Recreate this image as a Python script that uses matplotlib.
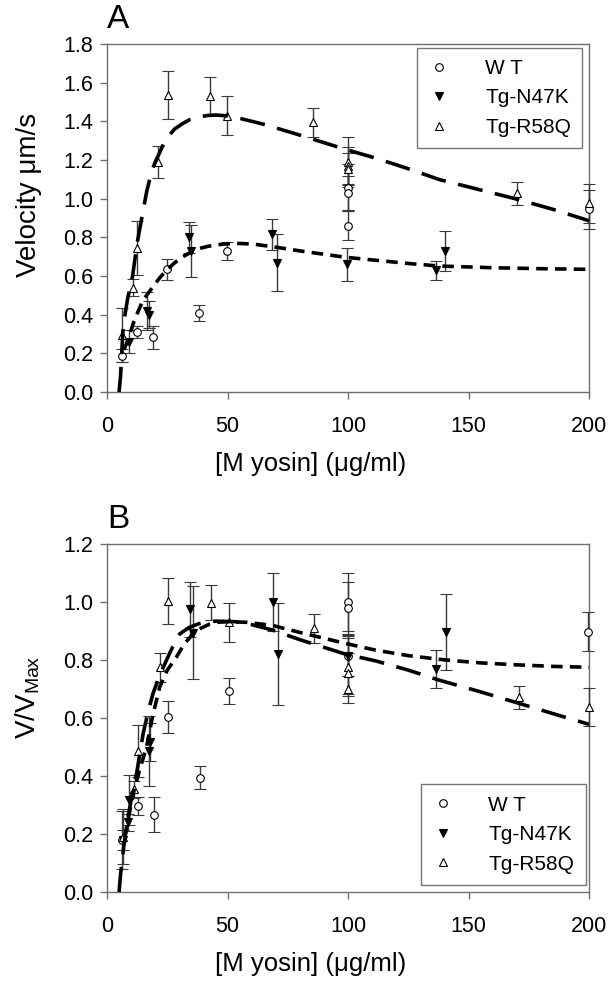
import numpy as np
import matplotlib
matplotlib.use("Agg")
import matplotlib.pyplot as plt
from matplotlib.lines import Line2D

plt.rcParams['font.family'] = ['Liberation Sans', 'DejaVu Sans']
plt.rcParams['mathtext.fontset'] = 'custom'
plt.rcParams['mathtext.rm'] = 'Liberation Sans'

# ---- Panel A: velocity (um/s) ----
a_wt_x = [6.3, 12.5, 18.9, 24.9, 38.0, 49.9, 100, 100, 100, 200]
a_wt_y = [0.188, 0.31, 0.283, 0.635, 0.41, 0.73, 1.057, 1.03, 0.86, 0.945]
a_wt_e = [0.035, 0.03, 0.06, 0.055, 0.04, 0.045, 0.12, 0.09, 0.075, 0.1]

a_n47k_x = [9.1, 16.5, 17.5, 34.0, 34.7, 68.3, 70.4, 99.5, 136.4, 140.4]
a_n47k_y = [0.26, 0.42, 0.40, 0.80, 0.73, 0.816, 0.67, 0.66, 0.63, 0.73]
a_n47k_e = [0.06, 0.1, 0.07, 0.08, 0.135, 0.08, 0.145, 0.085, 0.05, 0.105]

a_r58q_x = [6.3, 10.6, 12.5, 21.2, 25.1, 42.6, 49.9, 85.3, 100, 100, 100, 170.2, 200]
a_r58q_y = [0.295, 0.54, 0.743, 1.19, 1.536, 1.53, 1.43, 1.395, 1.19, 1.17, 1.155, 1.028, 0.976]
a_r58q_e = [0.14, 0.045, 0.14, 0.085, 0.125, 0.1, 0.1, 0.075, 0.13, 0.1, 0.08, 0.06, 0.1]

# fitted curves
a_fit_r_x = [5.0, 5.6, 6.7, 8.5, 10.6, 12.5, 14.7, 16.5, 18.5, 20.0, 21.9, 23.5, 25.3, 28.0, 31.5, 34.5,
             38.4, 42.0, 45.3, 50.0, 55.0, 65.0, 78.4, 90.0, 99.0, 111.4, 125.0, 137.6, 155.0, 169.3, 185.0, 198.2, 200]
a_fit_r_y = [0.0, 0.08, 0.34, 0.48, 0.60, 0.77, 0.92, 1.04, 1.14, 1.19, 1.24, 1.285, 1.32, 1.36, 1.39, 1.41,
             1.424, 1.431, 1.433, 1.428, 1.416, 1.385, 1.335, 1.29, 1.255, 1.21, 1.155, 1.10, 1.045, 1.0, 0.945, 0.893, 0.885]
a_fit_n_x = [7.0, 8.1, 9.5, 10.9, 13.0, 15.0, 17.0, 19.1, 21.8, 24.7, 28.0, 31.5, 35.0, 38.4, 42.0, 45.3,
             49.0, 53.6, 60.0, 68.7, 80.0, 99.0, 112.8, 125.0, 137.6, 160.0, 180.0, 198.2, 200]
a_fit_n_y = [0.22, 0.25, 0.30, 0.355, 0.42, 0.476, 0.51, 0.545, 0.59, 0.63, 0.668, 0.70, 0.725, 0.743, 0.754, 0.761,
             0.766, 0.769, 0.766, 0.752, 0.73, 0.697, 0.68, 0.665, 0.652, 0.643, 0.638, 0.635, 0.635]

# ---- Panel B: normalised V/Vmax ----
b_wt_x = [6.3, 13.0, 19.4, 25.3, 38.4, 50.4, 100, 100, 100, 199.6]
b_wt_y = [0.181, 0.297, 0.267, 0.602, 0.394, 0.693, 1.0, 0.978, 0.815, 0.897]
b_wt_e = [0.1, 0.03, 0.06, 0.055, 0.04, 0.045, 0.1, 0.09, 0.07, 0.067]

b_n47k_x = [6.8, 8.5, 9.2, 18.0, 17.5, 34.3, 35.7, 68.7, 70.8, 100, 136.6, 140.8]
b_n47k_y = [0.18, 0.24, 0.317, 0.518, 0.487, 0.975, 0.894, 1.0, 0.82, 0.814, 0.768, 0.897]
b_n47k_e = [0.035, 0.03, 0.085, 0.065, 0.12, 0.095, 0.16, 0.1, 0.175, 0.07, 0.065, 0.13]

b_r58q_x = [6.5, 11.2, 13.0, 21.9, 25.3, 43.3, 50.4, 85.7, 100, 100, 100, 170.7, 200]
b_r58q_y = [0.19, 0.354, 0.486, 0.775, 1.004, 0.997, 0.93, 0.909, 0.777, 0.754, 0.699, 0.671, 0.639]
b_r58q_e = [0.095, 0.03, 0.09, 0.05, 0.08, 0.06, 0.068, 0.05, 0.1, 0.07, 0.046, 0.04, 0.065]

b_fit_r_x = [5.0, 5.6, 7.0, 8.5, 10.3, 12.3, 15.0, 17.0, 19.1, 22.0, 24.7, 27.5, 30.2, 34.0, 38.4, 42.0,
             45.3, 53.6, 60.0, 68.7, 80.0, 99.0, 111.4, 125.0, 137.6, 155.0, 170.7, 185.0, 199.6, 200]
b_fit_r_y = [0.0, 0.059, 0.16, 0.25, 0.33, 0.41, 0.547, 0.62, 0.685, 0.75, 0.80, 0.85, 0.89, 0.912, 0.926, 0.932,
             0.934, 0.932, 0.922, 0.903, 0.87, 0.82, 0.797, 0.765, 0.731, 0.69, 0.651, 0.615, 0.579, 0.578]
b_fit_n_x = [7.4, 9.0, 10.9, 13.5, 16.4, 19.0, 21.9, 25.0, 28.8, 32.0, 35.7, 39.0, 42.6, 46.0, 49.5, 58.0,
             68.7, 80.0, 99.0, 111.4, 125.0, 140.4, 155.0, 170.7, 185.0, 199.6, 200]
b_fit_n_y = [0.19, 0.26, 0.34, 0.42, 0.50, 0.61, 0.708, 0.765, 0.81, 0.855, 0.89, 0.91, 0.924, 0.93, 0.932, 0.93,
             0.919, 0.895, 0.857, 0.834, 0.815, 0.80, 0.79, 0.783, 0.778, 0.775, 0.775]

ebar_col = '#3a3a3a'
spine_col = '#6e6e6e'


def draw_panel(ax, wt, n47k, r58q, fit_r, fit_n, ymax, ylabel, ylab_y, letter, legend_loc, legend_anchor):
    kw = dict(ls='none', ms=5.5, ecolor=ebar_col, elinewidth=1.0, capsize=4.5, capthick=1.0,
              zorder=3, clip_on=False)
    ax.errorbar(wt[0], wt[1], yerr=wt[2], marker='o', mfc='white', mec='black', mew=0.8, **kw)
    ax.errorbar(n47k[0], n47k[1], yerr=n47k[2], marker='v', mfc='black', mec='black', mew=0.8, **kw)
    ax.errorbar(r58q[0], r58q[1], yerr=r58q[2], marker='^', mfc='white', mec='black', mew=0.8, **kw)
    ax.plot(fit_r[0], fit_r[1], color='black', lw=2.6, dashes=(7, 3.5), zorder=4)
    ax.plot(fit_n[0], fit_n[1], color='black', lw=2.6, dashes=(3.2, 2.0), zorder=4)

    ax.set_xlim(0, 200)
    ax.set_ylim(0, ymax)
    ax.set_xticks([0, 50, 100, 150, 200])
    yt = np.arange(0, ymax + 0.01, 0.2)
    ax.set_yticks(yt)
    ax.set_yticklabels(['%.1f' % v for v in yt])
    ax.tick_params(direction='out', length=5, width=1, color=spine_col, labelsize=15.5)
    ax.tick_params(axis='x', pad=12)
    ax.tick_params(axis='y', pad=5)
    for s in ax.spines.values():
        s.set_color(spine_col)
        s.set_linewidth(1.0)

    ax.set_xlabel('[M yosin] (\u03bcg/ml)', fontsize=18.5)
    ax.xaxis.set_label_coords(0.423, -0.172)
    ax.set_ylabel(ylabel, fontsize=20)
    ax.yaxis.set_label_coords(-0.135, ylab_y)
    ax.text(0.0, 1.025, letter, transform=ax.transAxes, fontsize=24, ha='left', va='bottom')

    handles = [
        Line2D([], [], ls='none', marker='o', mfc='white', mec='black', mew=0.8, ms=5.5),
        Line2D([], [], ls='none', marker='v', mfc='black', mec='black', mew=0.8, ms=5.5),
        Line2D([], [], ls='none', marker='^', mfc='white', mec='black', mew=0.8, ms=5.5),
    ]
    leg = ax.legend(handles, ['W T', 'Tg-N47K', 'Tg-R58Q'], loc=legend_loc, bbox_to_anchor=legend_anchor,
                    frameon=True, fancybox=False, fontsize=15,
                    handletextpad=1.7, borderpad=0.55, labelspacing=0.5,
                    handlelength=1.0, borderaxespad=0.0)
    leg.get_frame().set_edgecolor('#555555')
    leg.get_frame().set_linewidth(1.0)


fig = plt.figure(figsize=(6.15, 9.9), dpi=100)
axA = fig.add_axes([0.174, 0.604, 0.784, 0.3515])
axB = fig.add_axes([0.174, 0.099, 0.784, 0.3515])

draw_panel(axA, (a_wt_x, a_wt_y, a_wt_e), (a_n47k_x, a_n47k_y, a_n47k_e),
           (a_r58q_x, a_r58q_y, a_r58q_e), (a_fit_r_x, a_fit_r_y), (a_fit_n_x, a_fit_n_y),
           1.8, 'Velocity \u03bcm/s', 0.566, 'A', 'upper right', (0.986, 0.99))
draw_panel(axB, (b_wt_x, b_wt_y, b_wt_e), (b_n47k_x, b_n47k_y, b_n47k_e),
           (b_r58q_x, b_r58q_y, b_r58q_e), (b_fit_r_x, b_fit_r_y), (b_fit_n_x, b_fit_n_y),
           1.2, 'V/V$_{\\mathrm{Max}}$', 0.56, 'B', 'lower right', (0.993, 0.02))

fig.savefig('out.png', dpi=100)
